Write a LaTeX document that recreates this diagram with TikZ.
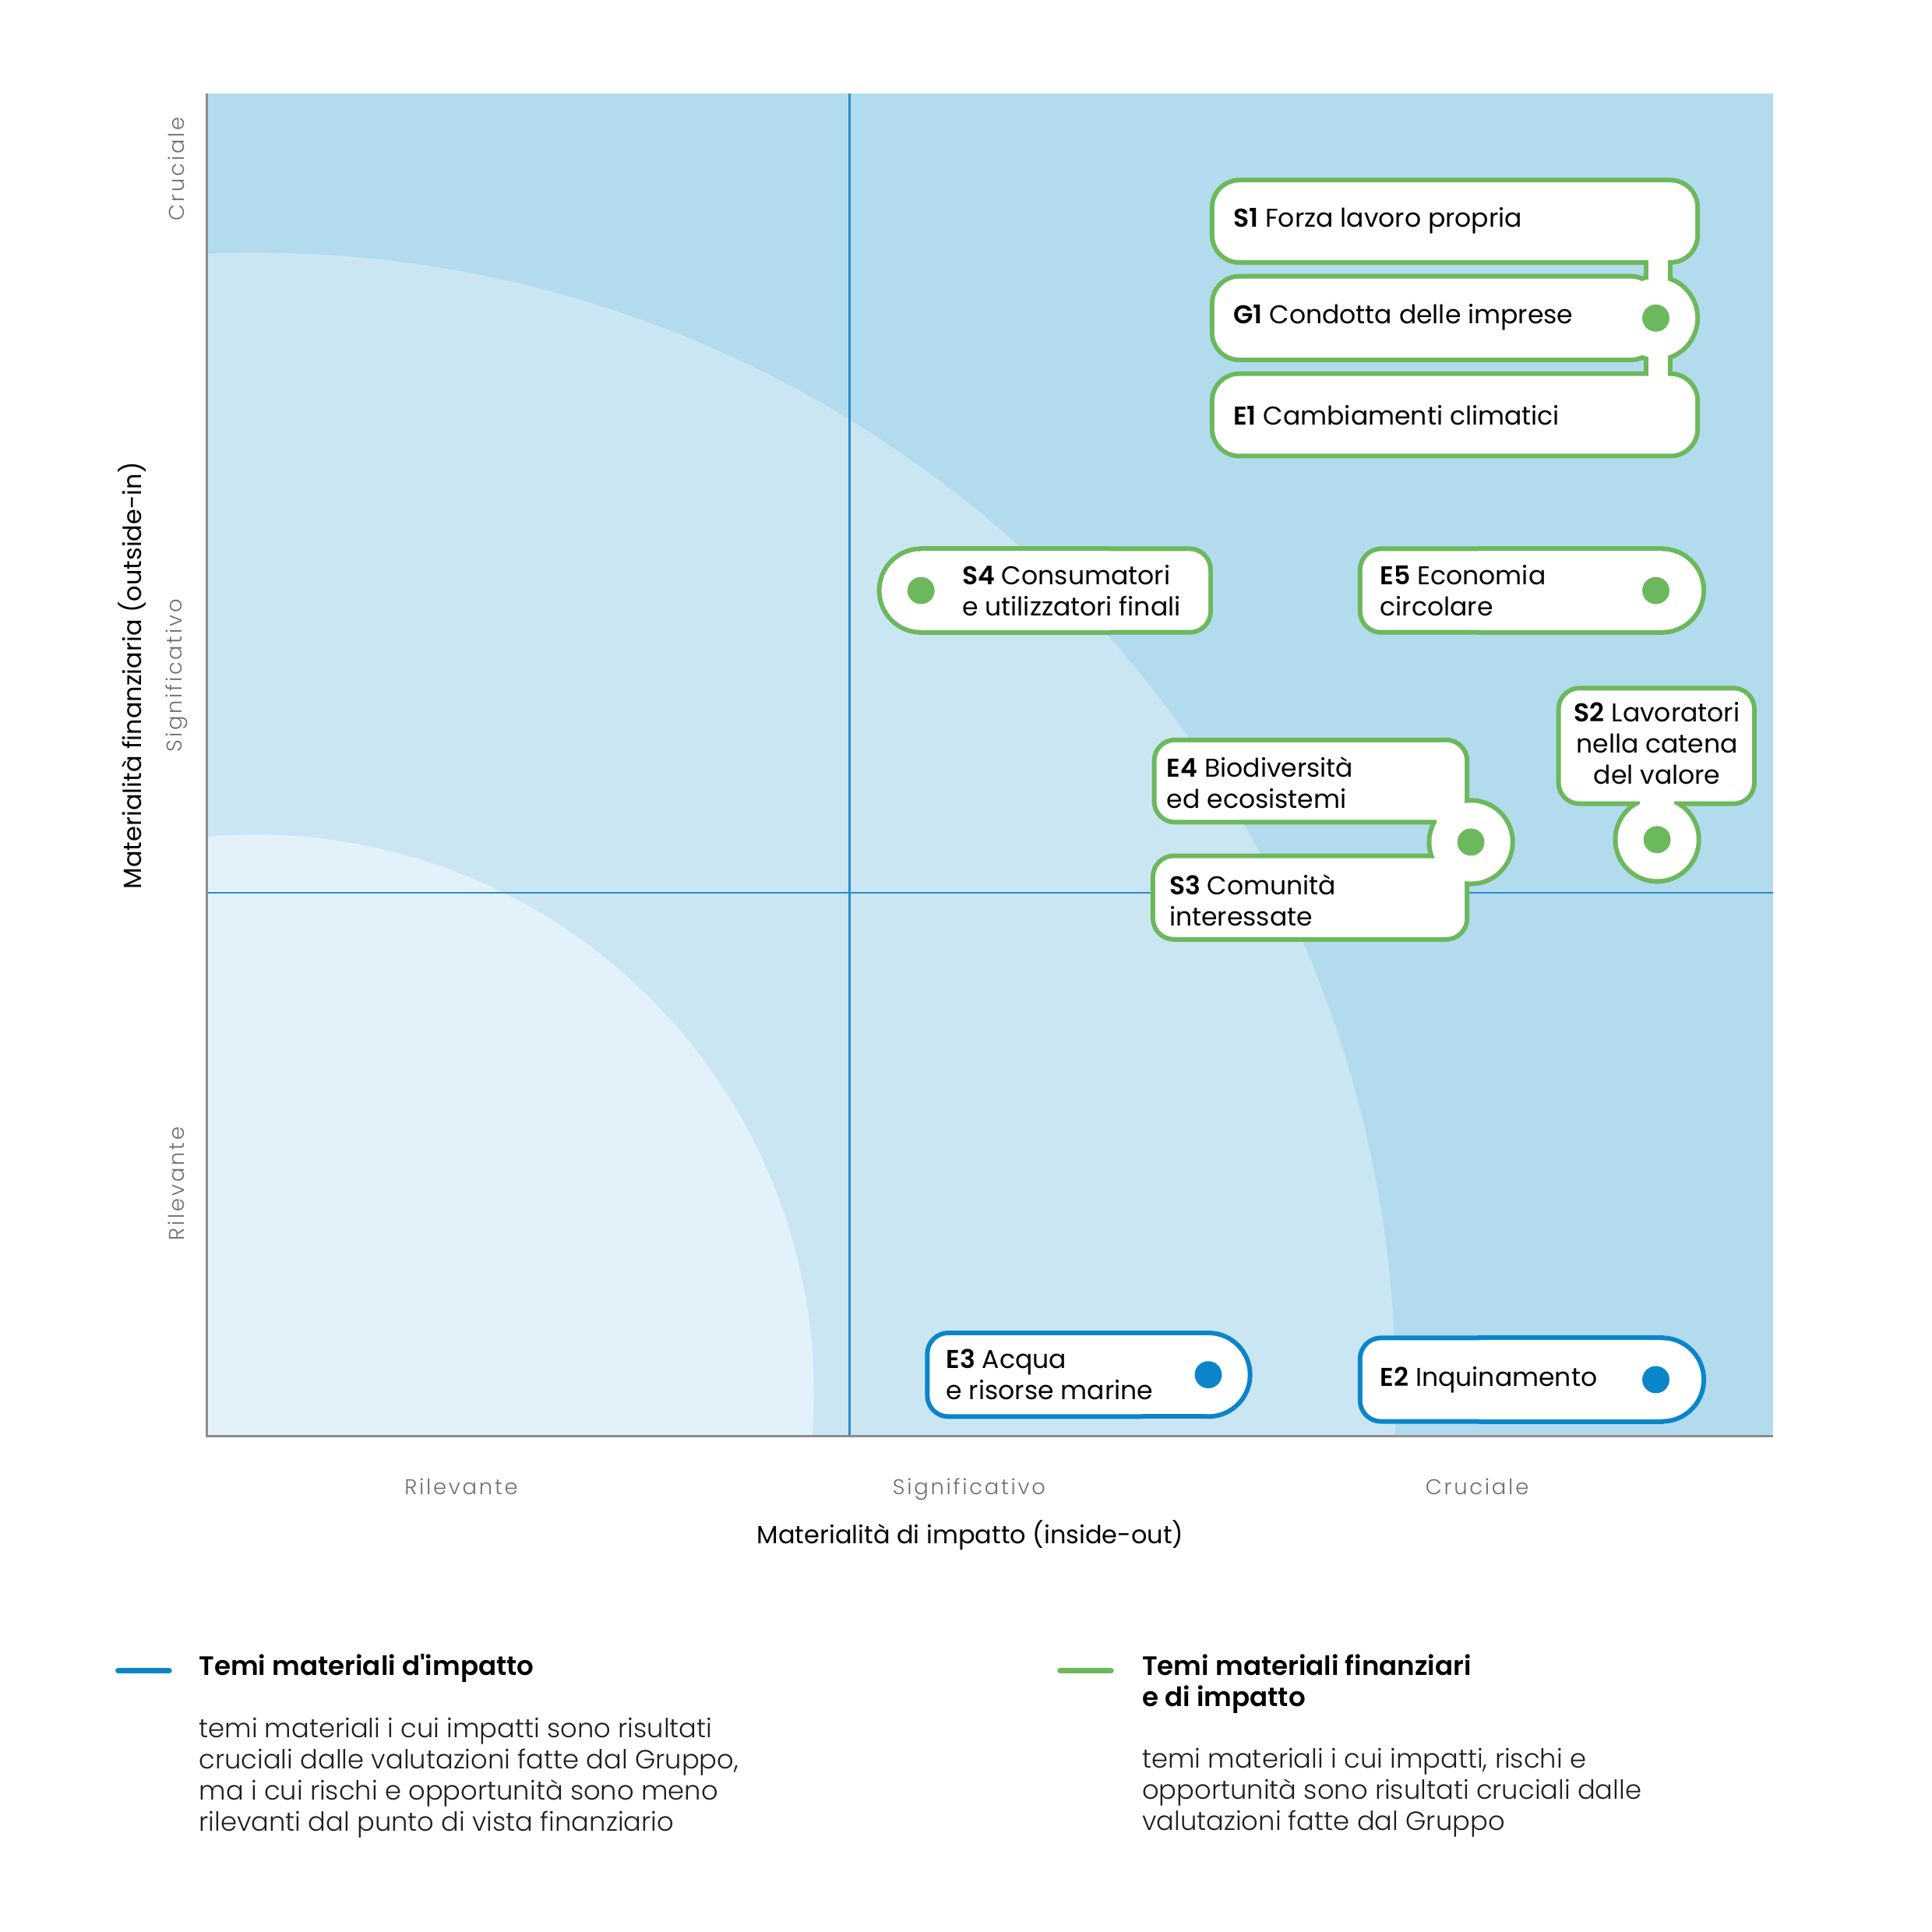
\documentclass[tikz,border=0pt]{standalone}
\usepackage{fontspec}
\setmainfont{Poppins}[BoldFont={Poppins SemiBold}]
\newfontfamily\tickfont[LetterSpace=10]{Poppins Light}
\newfontfamily\lightfont{Poppins Light}
\definecolor{bgdark}{HTML}{B3DBEE}
\definecolor{bgmid}{HTML}{CBE6F3}
\definecolor{bglight}{HTML}{E3F2FA}
\definecolor{divline}{HTML}{2A8CCB}
\definecolor{taggreen}{HTML}{6CB85C}
\definecolor{tagblue}{HTML}{0A85CA}
\definecolor{axisgray}{HTML}{8C8C8C}
\definecolor{ticktext}{HTML}{6E6E6E}
\definecolor{bodytext}{HTML}{1E1E1E}
\tikzset{
  tagout/.style={draw=#1, fill=#1, line width=3.4pt, line join=round},
  tagin/.style={fill=white},
  tagtext/.style={anchor=west, inner sep=0pt, align=left, font=\fontsize{9.4}{11.4}\selectfont},
  ticklabel/.style={inner sep=0pt, text=ticktext, font=\fontsize{7.8}{9}\selectfont\tickfont},
  axistitle/.style={inner sep=0pt, font=\fontsize{9.1}{11}\selectfont},
  legendline/.style={line width=2.2pt, line cap=round, #1},
  legendtitle/.style={anchor=west, inner sep=0pt, align=left, font=\fontsize{9.7}{11.3}\selectfont\bfseries},
  legendbody/.style={anchor=west, inner sep=0pt, align=left, text=bodytext, font=\fontsize{9.6}{11.3}\selectfont\lightfont},
}
\begin{document}
\begin{tikzpicture}[x=0.015826cm, y=-0.015826cm]
  \useasboundingbox (0,0) rectangle (1567,1567);
  % background zones
  \fill[bgdark] (168,76) rectangle (1438,1165);
  \begin{scope}
    \clip (168,76) rectangle (1438,1165);
    \fill[bgmid] (207,1130) circle[radius=925];
    \fill[bglight] (207,1130) circle[radius=453];
  \end{scope}
  \draw[divline, line width=0.7pt] (689,76) -- (689,1165);
  \draw[divline, line width=0.7pt] (168,724) -- (1438,724);
  \draw[axisgray, line width=0.9pt] (168,76) -- (168,1165) -- (1438,1165);
  % axis labels
  \draw
    (143,137) node[ticklabel, rotate=90] (ycru){Cruciale}
    (143,548) node[ticklabel, rotate=90] (ysig){Significativo}
    (143,960) node[ticklabel, rotate=90] (yril){Rilevante}
    (107,548) node[axistitle, rotate=90] (ytitle){Materialità finanziaria (outside-in)}
    (374,1212) node[ticklabel, anchor=base] (xril){Rilevante}
    (786,1212) node[ticklabel, anchor=base] (xsig){Significativo}
    (1198,1212) node[ticklabel, anchor=base] (xcru){Cruciale}
    (787,1245) node[axistitle] (xtitle){Materialità di impatto (inside-out)};
  % green tags, outline
  \begin{scope}[every path/.style={tagout=taggreen}]
    \path[rounded corners=0.32cm] (985,148) rectangle (1375,211);
    \path[rounded corners=0.32cm] (985,226) rectangle (1343,290);
    \path (1343,258) circle[radius=32];
    \path[rounded corners=0.32cm] (985,305) rectangle (1375,368);
    \path (1337,205) rectangle (1353,312);
    \path (747,479) circle[radius=32];
    \path (747,447) rectangle (900,511);
    \path[rounded corners=0.24cm] (800,447) rectangle (980,511);
    \path (1348,479) circle[radius=32];
    \path (1200,447) rectangle (1348,511);
    \path[rounded corners=0.24cm] (1105,447) rectangle (1300,511);
    \path[rounded corners=0.24cm] (938,602) rectangle (1188,665);
    \path[rounded corners=0.24cm] (937,696) rectangle (1188,760);
    \path (1165,655) rectangle (1195,706);
    \path (1193,683) circle[radius=32];
    \path[rounded corners=0.24cm] (1266,560) rectangle (1421,650);
    \path (1330,640) rectangle (1358,660);
    \path (1344,681) circle[radius=32];
  \end{scope}
  % blue tags, outline
  \begin{scope}[every path/.style={tagout=tagblue}]
    \path (980,1115) circle[radius=32];
    \path (900,1083) rectangle (980,1147);
    \path[rounded corners=0.24cm] (754,1083) rectangle (940,1147);
    \path (1348,1119) circle[radius=32];
    \path (1200,1087) rectangle (1348,1151);
    \path[rounded corners=0.24cm] (1105,1087) rectangle (1300,1151);
  \end{scope}
  % white insides
  \begin{scope}[every path/.style={tagin}]
    \path[rounded corners=0.32cm] (985,148) rectangle (1375,211);
    \path[rounded corners=0.32cm] (985,226) rectangle (1343,290);
    \path (1343,258) circle[radius=32];
    \path[rounded corners=0.32cm] (985,305) rectangle (1375,368);
    \path (1337,205) rectangle (1353,312);
    \path (747,479) circle[radius=32];
    \path (747,447) rectangle (900,511);
    \path[rounded corners=0.24cm] (800,447) rectangle (980,511);
    \path (1348,479) circle[radius=32];
    \path (1200,447) rectangle (1348,511);
    \path[rounded corners=0.24cm] (1105,447) rectangle (1300,511);
    \path[rounded corners=0.24cm] (938,602) rectangle (1188,665);
    \path[rounded corners=0.24cm] (937,696) rectangle (1188,760);
    \path (1165,655) rectangle (1195,706);
    \path (1193,683) circle[radius=32];
    \path[rounded corners=0.24cm] (1266,560) rectangle (1421,650);
    \path (1330,640) rectangle (1358,660);
    \path (1344,681) circle[radius=32];
    \path (980,1115) circle[radius=32];
    \path (900,1083) rectangle (980,1147);
    \path[rounded corners=0.24cm] (754,1083) rectangle (940,1147);
    \path (1348,1119) circle[radius=32];
    \path (1200,1087) rectangle (1348,1151);
    \path[rounded corners=0.24cm] (1105,1087) rectangle (1300,1151);
  \end{scope}
  % dots
  \fill[taggreen] (1343,258) circle[radius=11];
  \fill[taggreen] (747,479) circle[radius=11];
  \fill[taggreen] (1343,479) circle[radius=11];
  \fill[taggreen] (1193,683) circle[radius=11];
  \fill[taggreen] (1344,681) circle[radius=11];
  \fill[tagblue] (980,1115) circle[radius=11];
  \fill[tagblue] (1343,1119) circle[radius=11];
  % tag texts
  \draw
    (1000,179) node[tagtext] (s1){\textbf{S1} Forza lavoro propria}
    (1000,257) node[tagtext] (g1){\textbf{G1} Condotta delle imprese}
    (1000,337) node[tagtext] (e1){\textbf{E1} Cambiamenti climatici}
    (780,479) node[tagtext] (s4){\textbf{S4} Consumatori\\e utilizzatori finali}
    (1119,479) node[tagtext] (e5){\textbf{E5} Economia\\circolare}
    (946,635) node[tagtext] (e4){\textbf{E4} Biodiversità\\ed ecosistemi}
    (948,730) node[tagtext] (s3){\textbf{S3} Comunità\\interessate}
    (1344,603) node[tagtext, anchor=center, align=center] (s2){\textbf{S2} Lavoratori\\nella catena\\del valore}
    (767,1115) node[tagtext] (e3){\textbf{E3} Acqua\\e risorse marine}
    (1119,1119) node[tagtext] (e2){\textbf{E2} Inquinamento};
  % legend
  \draw[legendline=tagblue] (96,1355) -- (137,1355);
  \draw[legendline=taggreen] (860,1355) -- (901,1355);
  \draw
    (161,1353) node[legendtitle] (lgimp){Temi materiali d\textquotesingle impatto}
    (161,1442) node[legendbody] (lgimptext){temi materiali i cui impatti sono risultati\\cruciali dalle valutazioni fatte dal Gruppo,\\ma i cui rischi e opportunità sono meno\\rilevanti dal punto di vista finanziario}
    (926,1366) node[legendtitle] (lgfin){Temi materiali finanziari\\e di impatto}
    (926,1454) node[legendbody] (lgfintext){temi materiali i cui impatti, rischi e\\opportunità sono risultati cruciali dalle\\valutazioni fatte dal Gruppo};
\end{tikzpicture}
\end{document}
